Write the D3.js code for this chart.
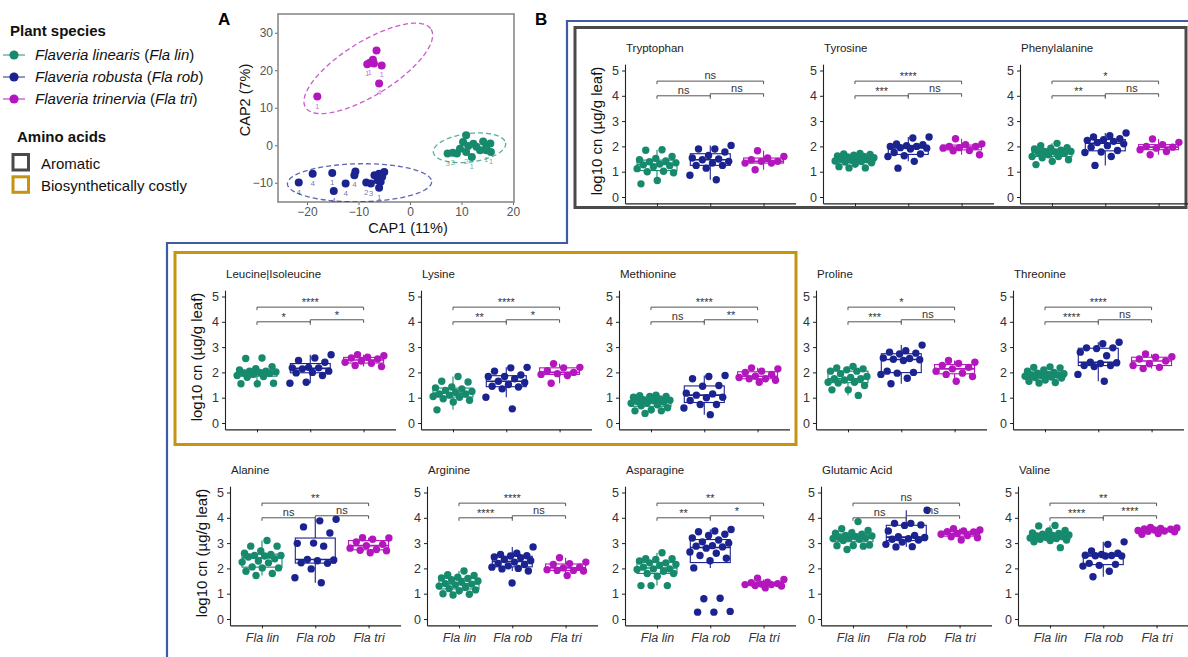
<!DOCTYPE html>
<html>
<head>
<meta charset="utf-8">
<script src="https://cdn.jsdelivr.net/npm/d3@7"></script>
<style>
  body { margin: 0; background: #fff; }
  svg { display: block; font-family: "Liberation Sans", Arial, Helvetica, sans-serif; }
</style>
</head>
<body>
<svg id="fig" width="1188" height="657"></svg>
<script>
// ---------------- data ----------------
const species = ["Fla lin", "Fla rob", "Fla tri"];
const speciesFull = ["Flaveria linearis", "Flaveria robusta", "Flaveria trinervia"];
const speciesColors = ["#178a6d", "#1b2390", "#b316bd"];
const yTicks = [0, 1, 2, 3, 4, 5];
const capXTicks = [-20, -10, 0, 10, 20];
const capYTicks = [-10, 0, 10, 20, 30];

const aminoAcids = ["Tryptophan", "Tyrosine", "Phenylalanine",
  "Leucine|Isoleucine", "Lysine", "Methionine", "Proline", "Threonine",
  "Alanine", "Arginine", "Asparagine", "Glutamic Acid", "Valine"];

// log10 concentration per plant, [Fla lin, Fla rob, Fla tri]
const tryptophan = [
  [1.87,1.85,1.6,1.52,1.47,1.42,1.4,1.35,1.3,1.27,1.24,1.2,1.12,1.02,1.0,0.96,0.65,0.52],
  [2.04,1.9,1.9,1.78,1.64,1.54,1.5,1.47,1.41,1.34,1.25,1.25,1.14,0.86,0.68],
  [1.83,1.6,1.54,1.47,1.41,1.41,1.34,1.34,1.08]];
const tyrosine = [
  [1.72,1.7,1.68,1.65,1.62,1.6,1.58,1.55,1.52,1.5,1.47,1.45,1.42,1.4,1.38,1.35,1.3,1.2,1.15,1.15],
  [2.37,2.33,2.1,2.07,2.03,2.0,2.0,1.95,1.93,1.9,1.76,1.7,1.63,1.6,1.41,1.14],
  [2.3,2.1,2.07,2.0,2.0,1.95,1.93,1.84,1.83,1.67]];
const phenylalanine = [
  [2.12,2.03,1.95,1.93,1.9,1.85,1.8,1.8,1.78,1.76,1.74,1.67,1.6,1.6,1.55,1.47,1.41,1.28],
  [2.53,2.42,2.37,2.3,2.26,2.24,2.2,2.15,2.1,2.03,1.97,1.84,1.78,1.76,1.6,1.25],
  [2.29,2.16,2.07,2.0,1.97,1.93,1.87,1.8,1.67]];
const leucineIsoleucine = [
  [2.57,2.55,2.23,2.15,2.1,2.05,2.05,2.02,2.0,1.98,1.96,1.92,1.88,1.84,1.81,1.57,1.55,1.55],
  [2.7,2.57,2.47,2.4,2.2,2.18,2.18,2.14,2.05,2.0,1.98,1.88,1.61,1.57],
  [2.7,2.66,2.6,2.57,2.53,2.45,2.4,2.36,2.27,2.23]];
const lysine = [
  [1.84,1.65,1.62,1.42,1.39,1.35,1.29,1.25,1.21,1.15,1.15,1.1,1.05,1.02,0.96,0.9,0.83,0.52],
  [2.2,2.18,2.05,1.9,1.84,1.84,1.75,1.65,1.6,1.52,1.45,1.42,1.35,1.02,0.56],
  [2.34,2.2,2.18,2.07,2.0,1.95,1.92,1.88,1.57]];
const methionine = [
  [1.1,1.08,1.05,1.05,1.02,0.95,0.92,0.9,0.88,0.85,0.83,0.8,0.78,0.72,0.68,0.6,0.52,0.48,0.48,0.38],
  [1.88,1.84,1.75,1.48,1.45,1.18,1.15,1.1,1.02,1.0,0.89,0.73,0.73,0.59,0.33],
  [2.18,2.14,2.05,2.0,1.92,1.85,1.8,1.75,1.75,1.69,1.61]];
const proline = [
  [2.24,2.18,2.14,2.1,2.05,2.05,1.95,1.84,1.8,1.75,1.75,1.7,1.61,1.61,1.58,1.48,1.31,1.31,1.09],
  [3.08,2.86,2.8,2.76,2.73,2.57,2.55,2.52,2.5,2.47,2.05,2.0,1.97,1.92,1.77,1.55],
  [2.47,2.4,2.35,2.27,2.2,2.14,2.05,1.97,1.92,1.84,1.65]];
const threonine = [
  [2.22,2.2,2.18,2.1,2.05,2.0,1.97,1.95,1.92,1.9,1.9,1.88,1.85,1.82,1.8,1.78,1.7,1.65,1.6,1.58],
  [3.19,3.13,2.97,2.97,2.94,2.8,2.66,2.4,2.38,2.35,2.27,2.27,2.23,1.92,1.65],
  [2.73,2.62,2.6,2.53,2.45,2.34,2.27,2.2,2.15]];
const alanine = [
  [3.1,2.88,2.88,2.69,2.6,2.55,2.51,2.51,2.49,2.45,2.38,2.29,2.25,2.22,2.06,2.02,2.02,1.89,1.8,1.72],
  [3.94,3.88,3.64,3.4,3.0,2.99,2.88,2.35,2.33,2.3,2.22,2.2,1.98,1.63,1.43],
  [3.21,3.2,3.15,3.05,2.95,2.9,2.8,2.75,2.72,2.7,2.62]];
const arginine = [
  [1.9,1.75,1.72,1.65,1.62,1.6,1.55,1.5,1.45,1.4,1.38,1.35,1.3,1.25,1.2,1.15,1.12,1.0,0.98,0.95],
  [2.85,2.6,2.55,2.5,2.49,2.45,2.42,2.35,2.3,2.25,2.2,2.15,2.1,2.05,2.0,1.98,1.9,1.42],
  [2.42,2.25,2.19,2.16,2.05,2.02,1.95,1.92,1.92,1.9,1.72]];
const asparagine = [
  [2.62,2.38,2.38,2.35,2.29,2.22,2.22,2.16,2.12,2.05,1.98,1.98,1.96,1.89,1.8,1.8,1.69,1.32,1.32,1.32],
  [3.54,3.48,3.45,3.35,3.3,3.2,3.12,3.05,3.0,2.9,2.88,2.85,2.8,2.65,2.6,2.51,2.4,2.3,2.02,0.82,0.8,0.3,0.27,0.27],
  [1.61,1.56,1.45,1.43,1.4,1.38,1.36,1.36,1.32,1.3,1.23]];
const glutamicAcid = [
  [3.85,3.57,3.5,3.41,3.39,3.35,3.3,3.28,3.25,3.22,3.21,3.2,3.18,3.15,3.1,2.92,2.91,2.9,2.88,2.75],
  [4.3,3.78,3.78,3.72,3.7,3.48,3.3,3.25,3.22,3.17,3.15,3.12,3.04,2.95,2.86,2.85],
  [3.57,3.52,3.48,3.45,3.44,3.38,3.35,3.3,3.25,3.21,3.12]];
const valine = [
  [3.7,3.68,3.5,3.48,3.4,3.38,3.35,3.32,3.3,3.28,3.25,3.22,3.2,3.18,3.15,3.12,3.1,3.05,2.82],
  [3.05,2.95,2.69,2.6,2.55,2.52,2.51,2.5,2.49,2.49,2.2,2.16,2.12,2.09,1.89,1.67],
  [3.62,3.6,3.58,3.56,3.55,3.52,3.5,3.48,3.47,3.45,3.38,3.35]];

const aminoValues = [tryptophan, tyrosine, phenylalanine, leucineIsoleucine, lysine,
  methionine, proline, threonine, alanine, arginine, asparagine, glutamicAcid, valine];

// pairwise test labels, in aminoAcids order
const sigLinRob = ["ns","***","**","*","**","ns","***","****","ns","****","**","ns","****"];
const sigRobTri = ["ns","ns","ns","*","*","**","ns","ns","ns","ns","*","ns","****"];
const sigLinTri = ["ns","****","*","****","****","****","*","****","**","****","**","ns","**"];
const bracketLevels = [4.0, 4.08, 4.58];

// canonical analysis of principal coordinates (CAP1, CAP2)
const capLin = [[10.9,2.7],[10.3,0.9],[12.3,0.4],[14.2,1.0],[15.6,0.5],[14.8,-0.4],[12.9,-0.4],
  [11.3,-0.2],[13.6,-1.3],[12.0,-3.1],[14.8,-1.3],[15.7,-1.8],[7.3,-2.2],[8.3,-2.0],[9.1,-2.2],
  [10.9,-1.8],[9.7,-0.9]];
const capLinLabels = ["","","","","","","","","","1","1","1","3","3","","2",""];
const capRob = [[-21.6,-9.95],[-18.9,-7.6],[-15.1,-7.4],[-14.8,-12.2],[-12.5,-10.2],[-10.8,-8.0],
  [-10.6,-7.0],[-8.5,-9.95],[-7.6,-10.2],[-6.9,-8.0],[-6.0,-7.6],[-5.0,-7.1],[-5.4,-8.4],
  [-5.7,-9.7],[-6.0,-11.3],[-6.3,-9.3]];
const capRobLabels = ["4","4","1","4","4","4","","2","3","","","","","","1",""];
const capTri = [[-18,13],[-6.5,25.3],[-7.2,22.8],[-7.8,22.0],[-8.3,21.6],[-7.0,21.8],[-5.5,21.3],[-6.0,16.5]];
const capTriLabels = ["1","","","1","1","","1","4"];
// 95% ellipses: centre, first and second semi-axis vectors (CAP units)
const ellipseLin = [[11.55,-0.67],[7.0,1.33],[0.58,-3.73]];
const ellipseRob = [[-9.8,-10.0],[14.0,0.27],[0,-5.07]];
const ellipseTri = [[-8.1,20.5],[12.2,10.4],[2.7,-6.1]];

// ---------------- drawing ----------------
const FONT = '"Liberation Sans", Arial, Helvetica, sans-serif';
const svg = d3.select("#fig");

// region frames
svg.append("path").attr("d", "M1190,21 H567 V243 H167 V660")
  .attr("fill", "none").attr("stroke", "#3d5ba6").attr("stroke-width", 2.2);
svg.append("rect").attr("x", 575).attr("y", 27.5).attr("width", 611).attr("height", 180)
  .attr("fill", "none").attr("stroke", "#4a4a4a").attr("stroke-width", 3);
svg.append("rect").attr("x", 175).attr("y", 252.5).attr("width", 621).attr("height", 192)
  .attr("fill", "none").attr("stroke", "#c6940e").attr("stroke-width", 3);

// legend
const leg = svg.append("g").style("font-family", FONT);
leg.append("text").attr("x", 10).attr("y", 36).attr("font-size", 15).attr("font-weight", "bold")
  .attr("fill", "#111").text("Plant species");
speciesFull.forEach((name, i) => {
  const cy = 55 + i * 22;
  leg.append("line").attr("x1", 3).attr("x2", 25).attr("y1", cy).attr("y2", cy)
    .attr("stroke", speciesColors[i]).attr("stroke-opacity", 0.6).attr("stroke-width", 1.6);
  leg.append("circle").attr("cx", 14).attr("cy", cy).attr("r", 4.6).attr("fill", speciesColors[i]);
  const t = leg.append("text").attr("x", 35).attr("y", cy + 5).attr("font-size", 15).attr("fill", "#111");
  t.append("tspan").attr("font-style", "italic").text(name);
  t.append("tspan").text(" (");
  t.append("tspan").attr("font-style", "italic").text(species[i]);
  t.append("tspan").text(")");
});
leg.append("text").attr("x", 17).attr("y", 142).attr("font-size", 15).attr("font-weight", "bold")
  .attr("fill", "#111").text("Amino acids");
[["Aromatic", "#4a4a4a"], ["Biosynthetically costly", "#c6940e"]].forEach((d, i) => {
  const yy = 154.5 + i * 22.3;
  leg.append("rect").attr("x", 13).attr("y", yy).attr("width", 15.5).attr("height", 15.5)
    .attr("fill", "none").attr("stroke", d[1]).attr("stroke-width", 3);
  leg.append("text").attr("x", 41).attr("y", yy + 14.5).attr("font-size", 15).attr("fill", "#111").text(d[0]);
});

// panel letters
svg.append("text").attr("x", 218).attr("y", 25).attr("font-size", 17).attr("font-weight", "bold")
  .style("font-family", FONT).text("A");
svg.append("text").attr("x", 535).attr("y", 25).attr("font-size", 17).attr("font-weight", "bold")
  .style("font-family", FONT).text("B");

// ---- panel A: CAP ordination ----
(function drawCap() {
  const L = 278, R = 514, T = 14, B = 202;
  const x = d3.scaleLinear().domain([-25.63, 20.19]).range([L, R]);
  const y = d3.scaleLinear().domain([-15.13, 35.0]).range([B, T]);
  const g = svg.append("g").style("font-family", FONT);

  const gx = g.append("g").attr("transform", `translate(0,${B})`)
    .call(d3.axisBottom(x).tickValues(capXTicks).tickSize(3).tickSizeOuter(0).tickPadding(2));
  const gy = g.append("g").attr("transform", `translate(${L},0)`)
    .call(d3.axisLeft(y).tickValues(capYTicks).tickSize(3).tickSizeOuter(0).tickPadding(2));
  [gx, gy].forEach(a => {
    a.attr("font-family", FONT);
    a.select(".domain").remove();
    a.selectAll(".tick line").attr("stroke", "#666");
    a.selectAll(".tick text").attr("fill", "#555").attr("font-size", 12);
  });
  g.append("rect").attr("x", L).attr("y", T).attr("width", R - L).attr("height", B - T)
    .attr("fill", "none").attr("stroke", "#8a8a8a").attr("stroke-width", 1.6);

  const clip = svg.append("clipPath").attr("id", "capclip");
  clip.append("rect").attr("x", L).attr("y", T).attr("width", R - L).attr("height", B - T);
  const inner = g.append("g").attr("clip-path", "url(#capclip)");

  const ell = [ellipseLin, ellipseRob, ellipseTri];
  const pts = [capLin, capRob, capTri];
  const labs = [capLinLabels, capRobLabels, capTriLabels];
  const angles = d3.range(0, 2 * Math.PI, Math.PI / 60);
  const line = d3.line().x(d => x(d[0])).y(d => y(d[1])).curve(d3.curveLinearClosed);
  ell.forEach((e, k) => {
    const ring = angles.map(t => [
      e[0][0] + e[1][0] * Math.cos(t) + e[2][0] * Math.sin(t),
      e[0][1] + e[1][1] * Math.cos(t) + e[2][1] * Math.sin(t)]);
    inner.append("path").attr("d", line(ring)).attr("fill", "none")
      .attr("stroke", speciesColors[k]).attr("stroke-opacity", 0.7)
      .attr("stroke-width", 1.3).attr("stroke-dasharray", "5,3");
  });
  pts.forEach((p, k) => {
    inner.selectAll(null).data(p).enter().append("circle")
      .attr("cx", d => x(d[0])).attr("cy", d => y(d[1])).attr("r", 4)
      .attr("fill", speciesColors[k]);
    inner.selectAll(null).data(p).enter().append("text")
      .attr("x", d => x(d[0])).attr("y", d => y(d[1]) + 12)
      .attr("text-anchor", "middle").attr("font-size", 8)
      .attr("fill", speciesColors[k]).attr("fill-opacity", 0.65)
      .text((d, i) => labs[k][i]);
  });

  g.append("text").attr("x", 408).attr("y", 233).attr("text-anchor", "middle")
    .attr("font-size", 14.5).attr("fill", "#111").text("CAP1 (11%)");
  g.append("text").attr("transform", "translate(250,100) rotate(-90)").attr("text-anchor", "middle")
    .attr("font-size", 14.5).attr("fill", "#111").text("CAP2 (7%)");
})();

// ---- panel B: amino acid box plots ----
const UNIT = 25.3;          // pixels per log10 unit
const STEP = 53.3;          // spacing between species
const rowZero = [197, 423, 619];
const colAxisX = [
  [null, null, 625, 823, 1020],
  [225, 421, 619, 816, 1013],
  [230, 427, 625, 821, 1018]];
const panelCells = [[0,2],[0,3],[0,4],[1,0],[1,1],[1,2],[1,3],[1,4],[2,0],[2,1],[2,2],[2,3],[2,4]];

function boxStats(values) {
  const s = values.slice().sort(d3.ascending);
  const q1 = d3.quantileSorted(s, 0.25), med = d3.quantileSorted(s, 0.5), q3 = d3.quantileSorted(s, 0.75);
  const iqr = q3 - q1;
  const lo = d3.min(s.filter(v => v >= q1 - 1.5 * iqr));
  const hi = d3.max(s.filter(v => v <= q3 + 1.5 * iqr));
  return { q1, med, q3, lo, hi };
}

function jitter(i, k) {
  return ((((i + 1) * 0.6180339887 + k * 0.37) % 1) - 0.5) * 0.8 * STEP;
}

function drawAmino(idx) {
  const [row, col] = panelCells[idx];
  const ax = colAxisX[row][col], zy = rowZero[row];
  const groups = aminoValues[idx];
  const x = d3.scalePoint().domain(species).range([ax, ax + STEP * 3.2]).padding(0.6);
  const y = d3.scaleLinear().domain([-0.25, 5.25]).range([zy + 0.25 * UNIT, zy - 5.25 * UNIT]);
  const g = svg.append("g").style("font-family", FONT);

  // title
  g.append("text").attr("x", ax + 1).attr("y", zy - 145).attr("font-size", 11.5)
    .attr("fill", "#222").text(aminoAcids[idx]);

  // axes
  const gy = g.append("g").attr("transform", `translate(${ax},0)`)
    .call(d3.axisLeft(y).tickValues(yTicks).tickSize(3).tickSizeOuter(0).tickPadding(3).tickFormat(d3.format("d")));
  const bottom = row === 2;
  const gx = g.append("g").attr("transform", `translate(0,${y(-0.25)})`)
    .call(d3.axisBottom(x).tickSize(3).tickSizeOuter(0).tickPadding(5)
      .tickFormat(d => bottom ? d : ""));
  [gx, gy].forEach(a => {
    a.attr("font-family", FONT);
    a.select(".domain").attr("stroke", "#222").attr("stroke-width", 1.1);
    a.selectAll(".tick line").attr("stroke", "#222");
    a.selectAll(".tick text").attr("fill", "#333").attr("font-size", 12.5);
  });
  gx.selectAll(".tick text").attr("font-style", "italic").attr("font-size", 12.5);

  if (col === panelCells.filter(c => c[0] === row)[0][1]) {
    g.append("text").attr("transform", `translate(${ax - 29},${zy - 66}) rotate(-90)`)
      .attr("text-anchor", "middle").attr("dominant-baseline", "central")
      .attr("font-size", 15).attr("fill", "#111").text("log10 cn (µg/g leaf)");
  }

  // boxes
  const bw = 0.75 * STEP;
  groups.forEach((vals, k) => {
    const st = boxStats(vals);
    const cx = x(species[k]);
    const c = speciesColors[k];
    g.append("line").attr("x1", cx).attr("x2", cx).attr("y1", y(st.hi)).attr("y2", y(st.q3))
      .attr("stroke", c).attr("stroke-width", 1.1);
    g.append("line").attr("x1", cx).attr("x2", cx).attr("y1", y(st.q1)).attr("y2", y(st.lo))
      .attr("stroke", c).attr("stroke-width", 1.1);
    g.append("rect").attr("x", cx - bw / 2).attr("width", bw)
      .attr("y", y(st.q3)).attr("height", Math.max(0.5, y(st.q1) - y(st.q3)))
      .attr("fill", "#fff").attr("stroke", c).attr("stroke-width", 1.1);
    g.append("line").attr("x1", cx - bw / 2).attr("x2", cx + bw / 2)
      .attr("y1", y(st.med)).attr("y2", y(st.med)).attr("stroke", c).attr("stroke-width", 1.6);
  });
  // jittered points
  groups.forEach((vals, k) => {
    g.selectAll(null).data(vals).enter().append("circle")
      .attr("cx", (d, i) => x(species[k]) + jitter(i, k))
      .attr("cy", d => y(d)).attr("r", 3.7).attr("fill", speciesColors[k]);
  });

  // significance brackets
  const pairs = [[0, 1, sigLinRob[idx]], [1, 2, sigRobTri[idx]], [0, 2, sigLinTri[idx]]];
  pairs.forEach((p, j) => {
    const x1 = x(species[p[0]]), x2 = x(species[p[1]]), yy = y(bracketLevels[j]);
    g.append("path").attr("d", `M${x1},${yy + 3} V${yy} H${x2} V${yy + 3}`)
      .attr("fill", "none").attr("stroke", "#555").attr("stroke-width", 1);
    g.append("text").attr("x", (x1 + x2) / 2).attr("y", p[2] === "ns" ? yy - 2 : yy - 1)
      .attr("text-anchor", "middle").attr("font-size", 11).attr("fill", "#333").text(p[2]);
  });
}

aminoAcids.forEach((a, i) => drawAmino(i));
</script>
</body>
</html>
